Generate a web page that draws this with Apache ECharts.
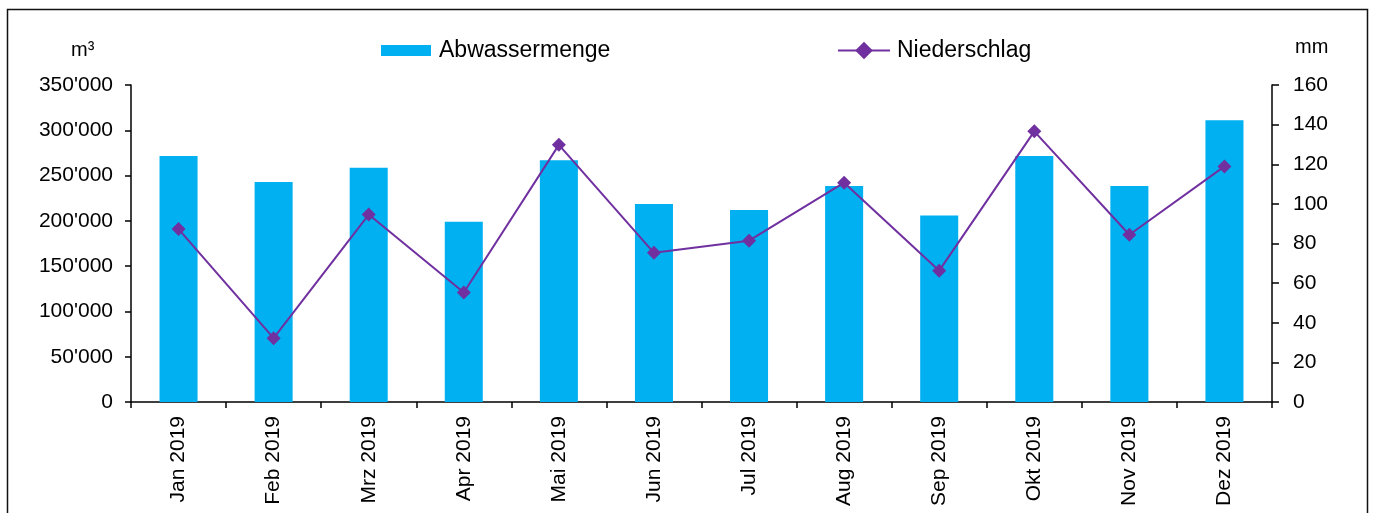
<!DOCTYPE html>
<html>
<head>
<meta charset="utf-8">
<script src="https://cdn.jsdelivr.net/npm/echarts@6/dist/echarts.min.js"></script>
<style>
html,body{margin:0;padding:0;background:#fff;}
#chart{width:1373px;height:513px;}
</style>
</head>
<body>
<div id="chart"></div>
<script>
const categories = ['Jan 2019','Feb 2019','Mrz 2019','Apr 2019','Mai 2019','Jun 2019','Jul 2019','Aug 2019','Sep 2019','Okt 2019','Nov 2019','Dez 2019'];
const abwassermenge = [271500, 243000, 258500, 199000, 267000, 218500, 212000, 238500, 206000, 271500, 238500, 311000];
const niederschlag = [87.3, 32.2, 94.6, 55.3, 129.8, 75.3, 81.4, 110.7, 66.3, 136.6, 84.4, 118.9];
const leftTicks = {min: 0, max: 350000, interval: 50000};
const rightTicks = {min: 0, max: 160, interval: 20};

const FONT = "'Liberation Sans', Arial, sans-serif";
const fmt = v => String(v).replace(/\B(?=(\d{3})+(?!\d))/g, "'");

const chart = echarts.init(document.getElementById('chart'), null, {renderer: 'canvas'});
chart.setOption({
  animation: false,
  backgroundColor: '#fff',
  textStyle: {fontFamily: FONT, color: '#000'},
  grid: {left: 131, right: 101, top: 85, bottom: 111, containLabel: false},
  legend: [
    {data: [{name: 'Abwassermenge', icon: 'rect'}], left: 376, top: 34, itemWidth: 50, itemHeight: 11, itemGap: 0,
     textStyle: {fontFamily: FONT, fontSize: 23, color: '#000', padding: [0,0,0,3]}},
    {data: ['Niederschlag'], left: 832, top: 34, itemWidth: 52, itemHeight: 22, itemGap: 0,
     textStyle: {fontFamily: FONT, fontSize: 23, color: '#000', padding: [0,0,0,2]}}
  ],
  graphic: [
    {type: 'rect', left: 5, top: 7, shape: {width: 1360, height: 505},
     style: {fill: 'none', stroke: '#111', lineWidth: 1.5}, silent: true},
    {type: 'text', left: 71, top: 40, style: {text: 'm³', font: "20px 'Liberation Sans', Arial", fill: '#000'}},
    {type: 'text', left: 1295, top: 37, style: {text: 'mm', font: "20px 'Liberation Sans', Arial", fill: '#000'}}
  ],
  xAxis: {
    type: 'category', data: categories, boundaryGap: true,
    axisLine: {lineStyle: {color: '#000', width: 1.5}},
    axisTick: {show: true, length: 6, alignWithLabel: false, lineStyle: {color: '#000', width: 1.5}},
    axisLabel: {rotate: 90, fontSize: 21, fontFamily: FONT, color: '#000', margin: 14, interval: 0}
  },
  yAxis: [
    {type: 'value', min: leftTicks.min, max: leftTicks.max, interval: leftTicks.interval, position: 'left',
     axisLine: {show: true, lineStyle: {color: '#000', width: 1.5}},
     axisTick: {show: true, length: 6, lineStyle: {color: '#000', width: 1.5}},
     splitLine: {show: false},
     axisLabel: {fontSize: 21, fontFamily: FONT, color: '#000', margin: 18, formatter: fmt}},
    {type: 'value', min: rightTicks.min, max: rightTicks.max, interval: rightTicks.interval, position: 'right',
     axisLine: {show: true, lineStyle: {color: '#000', width: 1.5}},
     axisTick: {show: true, length: 7, lineStyle: {color: '#000', width: 1.5}},
     splitLine: {show: false},
     axisLabel: {fontSize: 21, fontFamily: FONT, color: '#000', margin: 21}}
  ],
  series: [
    {name: 'Abwassermenge', type: 'bar', data: abwassermenge, yAxisIndex: 0, barWidth: '40%',
     itemStyle: {color: '#00B0F0'}},
    {name: 'Niederschlag', type: 'line', data: niederschlag, yAxisIndex: 1,
     symbol: 'diamond', symbolSize: 14, showSymbol: true,
     lineStyle: {color: '#7030A0', width: 2}, itemStyle: {color: '#7030A0'}}
  ]
});
</script>
</body>
</html>
